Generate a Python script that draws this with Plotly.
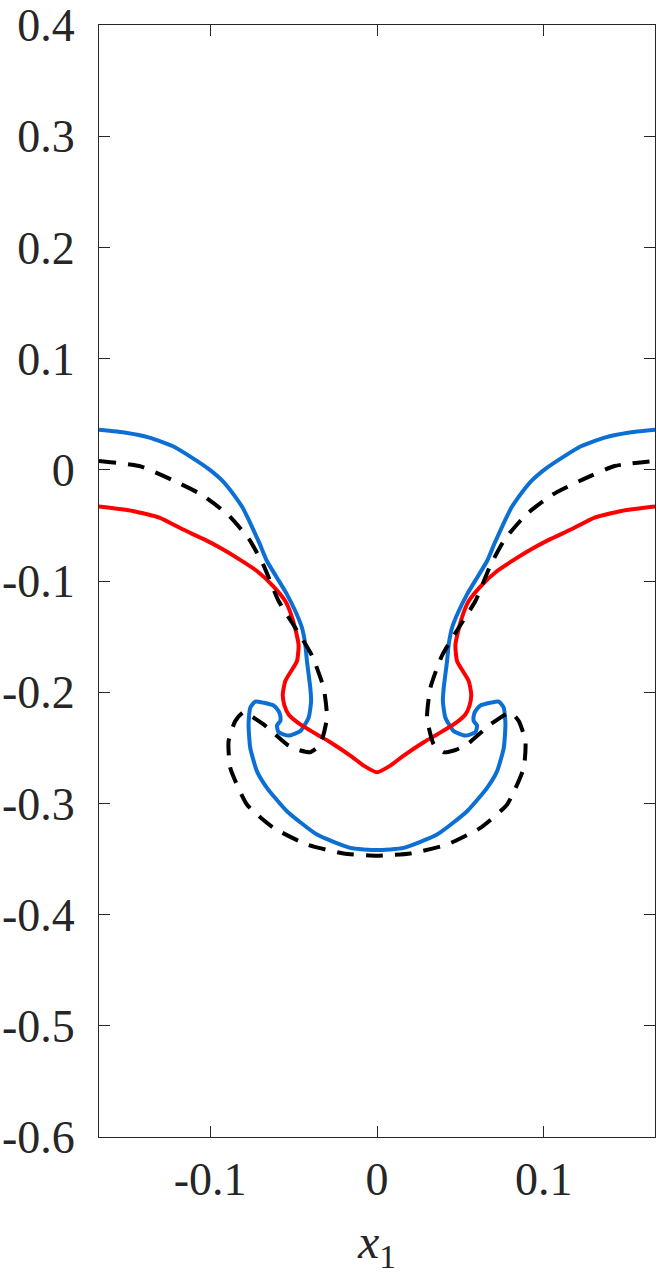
import plotly.graph_objects as go

# Red interface
red_x = [-0.1667, -0.1465, -0.1305, -0.1166, -0.103, -0.093, -0.082, -0.072, -0.062, -0.055,
         -0.052, -0.049, -0.047, -0.048, -0.055, -0.0565, -0.0555, -0.053, -0.046, -0.036,
         -0.028, -0.016, -0.008, 0.0,
         0.008, 0.016, 0.028, 0.036, 0.046, 0.053, 0.0555, 0.0565, 0.055, 0.048,
         0.047, 0.049, 0.052, 0.055, 0.062, 0.072, 0.082, 0.093, 0.103, 0.1166,
         0.1305, 0.1465, 0.1667]
red_y = [-0.033, -0.037, -0.043, -0.0535, -0.063, -0.071, -0.081, -0.091, -0.105, -0.118,
         -0.128, -0.143, -0.158, -0.172, -0.190, -0.202, -0.212, -0.220, -0.229, -0.238,
         -0.245, -0.257, -0.266, -0.272,
         -0.266, -0.257, -0.245, -0.238, -0.229, -0.220, -0.212, -0.202, -0.190, -0.172,
         -0.158, -0.143, -0.128, -0.118, -0.105, -0.091, -0.081, -0.071, -0.063, -0.0535,
         -0.043, -0.037, -0.033]

# Blue interface
blue_x = [-0.1667, -0.1505, -0.1365, -0.1226, -0.111, -0.1006, -0.0926, -0.0846, -0.0806, -0.0766,
          -0.0705, -0.066, -0.060, -0.054, -0.049, -0.045, -0.043, -0.042, -0.040, -0.0395,
          -0.041, -0.046, -0.053, -0.059, -0.060, -0.058, -0.058, -0.059, -0.062, -0.068,
          -0.073, -0.076, -0.077, -0.076, -0.072, -0.066, -0.054, -0.036, -0.016, 0.0,
          0.016, 0.036, 0.054, 0.066, 0.072, 0.076, 0.077, 0.076, 0.073, 0.068,
          0.062, 0.059, 0.058, 0.058, 0.060, 0.059, 0.053, 0.046, 0.041, 0.0395,
          0.040, 0.042, 0.043, 0.045, 0.049, 0.054, 0.060, 0.066, 0.0705, 0.0766,
          0.0806, 0.0846, 0.0926, 0.1006, 0.111, 0.1226, 0.1365, 0.1505, 0.1667]
blue_y = [0.036, 0.0334, 0.029, 0.0214, 0.011, 0.0004, -0.010, -0.025, -0.034, -0.046,
          -0.066, -0.082, -0.097, -0.112, -0.127, -0.142, -0.157, -0.172, -0.196, -0.208,
          -0.223, -0.235, -0.239, -0.236, -0.230, -0.226, -0.221, -0.217, -0.212, -0.2095,
          -0.2085, -0.214, -0.229, -0.250, -0.271, -0.286, -0.307, -0.328, -0.340, -0.342,
          -0.340, -0.328, -0.307, -0.286, -0.271, -0.250, -0.229, -0.214, -0.2085, -0.2095,
          -0.212, -0.217, -0.221, -0.226, -0.230, -0.236, -0.239, -0.235, -0.223, -0.208,
          -0.196, -0.172, -0.157, -0.142, -0.127, -0.112, -0.097, -0.082, -0.066, -0.046,
          -0.034, -0.025, -0.010, 0.0004, 0.011, 0.0214, 0.029, 0.0334, 0.036]

# Black dashed interface
black_x = [-0.1667, -0.1425, -0.1235, -0.1056, -0.0896, -0.0766, -0.068, -0.059, -0.049, -0.039,
           -0.032, -0.030, -0.034, -0.040, -0.047, -0.054, -0.068, -0.080, -0.085, -0.089,
           -0.088, -0.078, -0.062, -0.042, -0.020, 0.0,
           0.020, 0.042, 0.062, 0.078, 0.088, 0.089, 0.085, 0.080, 0.068, 0.054,
           0.047, 0.040, 0.034, 0.030, 0.032, 0.039, 0.049, 0.059, 0.068, 0.0766,
           0.0896, 0.1056, 0.1235, 0.1425, 0.1667]
black_y = [0.008, 0.0034, -0.0086, -0.022, -0.040, -0.0625, -0.086, -0.118, -0.142, -0.167,
           -0.196, -0.223, -0.247, -0.254, -0.252, -0.247, -0.229, -0.218, -0.226, -0.244,
           -0.268, -0.301, -0.322, -0.337, -0.345, -0.347,
           -0.345, -0.337, -0.322, -0.301, -0.268, -0.244, -0.226, -0.218, -0.229, -0.247,
           -0.252, -0.254, -0.247, -0.223, -0.196, -0.167, -0.142, -0.118, -0.086, -0.0625,
           -0.040, -0.022, -0.0086, 0.0034, 0.008]

x_ticks = [-0.1, 0, 0.1]
x_tick_labels = ["-0.1", "0", "0.1"]
y_ticks = [0.4, 0.3, 0.2, 0.1, 0, -0.1, -0.2, -0.3, -0.4, -0.5, -0.6]
y_tick_labels = ["0.4", "0.3", "0.2", "0.1", "0", "-0.1", "-0.2", "-0.3", "-0.4", "-0.5", "-0.6"]

FONT = "Liberation Serif, DejaVu Serif, serif"
AX = "#262626"

fig = go.Figure()
fig.add_trace(go.Scatter(x=blue_x, y=blue_y, mode="lines",
                         line=dict(color="#0b6fd4", width=4, shape="spline", smoothing=0.5),
                         showlegend=False))
fig.add_trace(go.Scatter(x=red_x, y=red_y, mode="lines",
                         line=dict(color="#ff0000", width=4, shape="spline", smoothing=0.5),
                         showlegend=False))
fig.add_trace(go.Scatter(x=black_x, y=black_y, mode="lines",
                         line=dict(color="#000000", width=4, dash="17px,12px",
                                   shape="spline", smoothing=0.5),
                         showlegend=False))

fig.update_layout(
    width=663, height=1275,
    margin=dict(l=99, r=8, t=25, b=138, autoexpand=False),
    paper_bgcolor="white", plot_bgcolor="white",
    font=dict(family=FONT, size=46, color=AX),
)
fig.update_xaxes(
    range=[-1/6, 1/6], tickvals=x_ticks, ticktext=x_tick_labels,
    ticks="inside", ticklen=11, tickwidth=1, tickcolor=AX,
    showline=True, linecolor=AX, linewidth=1, mirror="ticks",
    showgrid=False, zeroline=False, automargin=False,
    tickfont=dict(family=FONT, size=46, color=AX), ticklabelstandoff=2,
    title=dict(text="<i>x</i><sub>1</sub>", font=dict(family=FONT, size=48, color=AX), standoff=26),
)
fig.update_yaxes(
    range=[-0.6, 0.4], tickvals=y_ticks, ticktext=y_tick_labels,
    ticks="inside", ticklen=11, tickwidth=1, tickcolor=AX,
    showline=True, linecolor=AX, linewidth=1, mirror="ticks",
    showgrid=False, zeroline=False, automargin=False,
    tickfont=dict(family=FONT, size=46, color=AX), ticklabelstandoff=14,
)

fig.write_html("out.html")
